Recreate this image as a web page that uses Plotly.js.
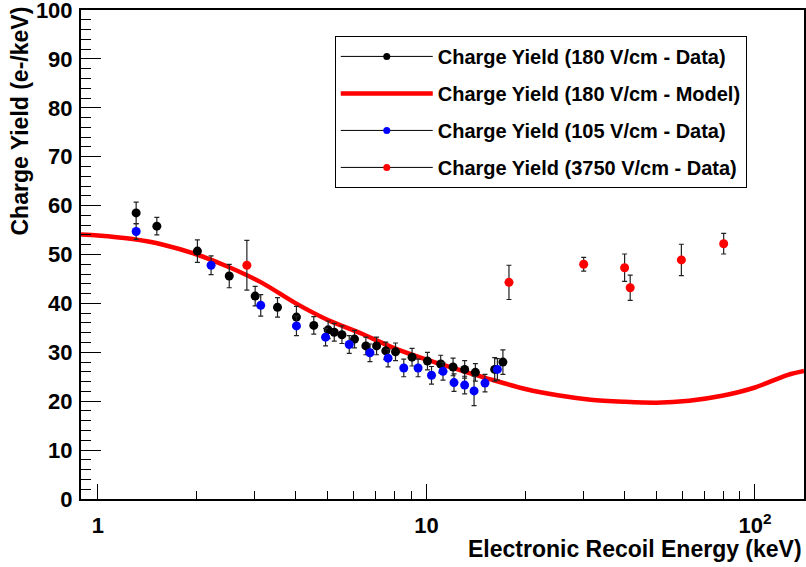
<!DOCTYPE html>
<html>
<head>
<meta charset="utf-8">
<script src="https://cdn.plot.ly/plotly-3.0.1.min.js"></script>
<style>html,body{margin:0;padding:0;background:#fff;}#plot{width:806px;height:567px;}</style>
</head>
<body>
<div id="plot"></div>
<script>
// 180 V/cm data
const e180 = [1.307, 1.511, 2.008, 2.51, 3.01, 3.52, 4.02, 4.54, 5.02, 5.24, 5.53, 6.04, 6.54, 7.05, 7.52, 8.05, 9.04, 10.07, 11.05, 12.05, 13.07, 14.09, 16.13, 17.09];
const y180 = [58.5, 55.8, 50.7, 45.6, 41.5, 39.2, 37.2, 35.5, 34.6, 34.1, 33.6, 32.7, 31.3, 31.3, 30.3, 30.1, 29.0, 28.2, 27.6, 27.0, 26.5, 25.9, 26.5, 28.0];
const err180 = [2.2, 1.8, 2.3, 2.4, 2.0, 2.0, 2.2, 1.8, 1.8, 1.8, 1.8, 1.8, 1.8, 1.8, 1.8, 1.8, 1.8, 1.8, 1.8, 1.8, 1.8, 1.8, 2.4, 2.5];
// 105 V/cm data
const e105 = [1.307, 2.21, 3.13, 4.02, 4.93, 5.82, 6.73, 7.64, 8.53, 9.43, 10.36, 11.23, 12.13, 13.07, 13.96, 15.07, 16.44];
const y105 = [54.7, 47.8, 39.6, 35.4, 33.1, 31.6, 29.9, 28.8, 26.8, 26.8, 25.3, 26.1, 23.8, 23.3, 22.1, 23.7, 26.5];
const err105 = [1.6, 1.9, 2.2, 2.0, 1.8, 1.8, 1.8, 1.8, 1.8, 1.8, 1.8, 1.8, 1.8, 1.8, 3.0, 1.8, 2.2];
// 3750 V/cm data
const e3750 = [2.84, 17.83, 30.1, 40.1, 41.7, 59.7, 80.3];
const y3750 = [47.8, 44.3, 48.0, 47.3, 43.2, 48.9, 52.2];
const err3750 = [5.1, 3.5, 1.4, 2.8, 2.6, 3.2, 2.1];
// 180 V/cm model curve
const eModel = [0.888, 1.0, 1.26, 1.58, 2.0, 2.51, 3.16, 3.98, 5.01, 6.31, 7.94, 10, 12.6, 15.8, 20, 25.1, 31.6, 39.8, 50.1, 63.1, 79.4, 100, 126, 141];
const yModel = [54.1, 53.9, 53.2, 52.0, 50.0, 47.4, 44.2, 40.1, 36.6, 33.9, 30.9, 28.5, 26.4, 24.4, 22.5, 21.2, 20.3, 19.9, 19.7, 20.1, 21.1, 22.8, 25.4, 26.2];
// labels
const names = ["Charge Yield (180 V/cm - Data)", "Charge Yield (180 V/cm - Model)", "Charge Yield (105 V/cm - Data)", "Charge Yield (3750 V/cm - Data)"];
const xTickVals = [1, 10, 100];
const xTickText = ["1", "10", "10<sup>2</sup>"];
const yTickVals = [0, 10, 20, 30, 40, 50, 60, 70, 80, 90, 100];
const xTitle = "Electronic Recoil Energy (keV)";
const yTitle = "Charge Yield (e-/keV)";

const FONT = "Liberation Sans, Arial, Helvetica, sans-serif";
const b = (s) => "<b>" + s + "</b>";
const errStyle = (arr) => ({type: 'data', array: arr, visible: true, color: '#222', thickness: 1.2, width: 2.5});

const traces = [
  {x: eModel, y: yModel, mode: 'lines', line: {color: '#ff0000', width: 4.5, shape: 'spline', smoothing: 0.8}, showlegend: false, hoverinfo: 'skip'},
  {x: e180, y: y180, mode: 'markers', marker: {color: '#000000', size: 9}, error_y: errStyle(err180), showlegend: false},
  {x: e105, y: y105, mode: 'markers', marker: {color: '#0000ff', size: 9}, error_y: errStyle(err105), showlegend: false},
  {x: e3750, y: y3750, mode: 'markers', marker: {color: '#ff0000', size: 9}, error_y: errStyle(err3750), showlegend: false},
  // legend entries
  {x: [null], y: [null], name: b(names[0]), legendgroup: 'a', mode: 'lines+markers', line: {color: '#000', width: 1}, marker: {color: '#000', size: 7}},
  {x: [null], y: [null], name: b(names[1]), legendgroup: 'b', mode: 'lines', line: {color: '#ff0000', width: 4.5}},
  {x: [null], y: [null], name: b(names[2]), legendgroup: 'c', mode: 'lines+markers', line: {color: '#000', width: 1}, marker: {color: '#0000ff', size: 7}},
  {x: [null], y: [null], name: b(names[3]), legendgroup: 'd', mode: 'lines+markers', line: {color: '#000', width: 1}, marker: {color: '#ff0000', size: 7}}
];

const layout = {
  width: 806, height: 567,
  margin: {l: 81, r: 2, t: 10, b: 68},
  paper_bgcolor: '#fff', plot_bgcolor: '#fff',
  font: {family: FONT, color: '#000', size: 16},
  showlegend: true,
  legend: {
    x: 0.351, y: 0.947, xanchor: 'left', yanchor: 'top',
    bgcolor: '#fff', bordercolor: '#000', borderwidth: 1,
    font: {family: FONT, size: 20, color: '#000'},
    tracegroupgap: 8, itemwidth: 92
  },
  xaxis: {
    type: 'log', range: [Math.log10(0.888), Math.log10(141)],
    tickvals: xTickVals, ticktext: xTickText.map(b),
    ticks: 'inside', ticklen: 15, tickwidth: 1, tickcolor: '#000',
    minor: {ticks: 'inside', ticklen: 8, tickwidth: 1, tickcolor: '#000', tickvals: [2,3,4,5,6,7,8,9,20,30,40,50,60,70,80,90]},
    showline: true, linecolor: '#000', linewidth: 2, mirror: true,
    showgrid: false, zeroline: false,
    tickfont: {family: FONT, size: 22, color: '#000'},
    ticklabelstandoff: 6, ticklabeloverflow: 'allow'
  },
  yaxis: {
    range: [0, 100], tickvals: yTickVals, ticktext: yTickVals.map(v => b(String(v))),
    ticks: 'inside', ticklen: 20, tickwidth: 1, tickcolor: '#000',
    minor: {ticks: 'inside', ticklen: 10, tickwidth: 1, tickcolor: '#000', dtick: 2},
    showline: true, linecolor: '#000', linewidth: 2, mirror: true,
    showgrid: false, zeroline: false,
    tickfont: {family: FONT, size: 22, color: '#000'},
    ticklabelstandoff: 2, ticklabeloverflow: 'allow'
  },
  annotations: [
    {text: b(xTitle), xref: 'paper', yref: 'paper', x: 1, y: 0, xanchor: 'right', yanchor: 'top', yshift: -35, showarrow: false,
     font: {family: FONT, size: 23, color: '#000'}},
    {text: b(yTitle), xref: 'paper', yref: 'paper', x: 0, y: 1, xanchor: 'right', yanchor: 'top', xshift: -47, yshift: 5, textangle: -90, showarrow: false,
     font: {family: FONT, size: 23, color: '#000'}}
  ]
};

Plotly.newPlot('plot', traces, layout, {staticPlot: true, displayModeBar: false});
</script>
</body>
</html>
